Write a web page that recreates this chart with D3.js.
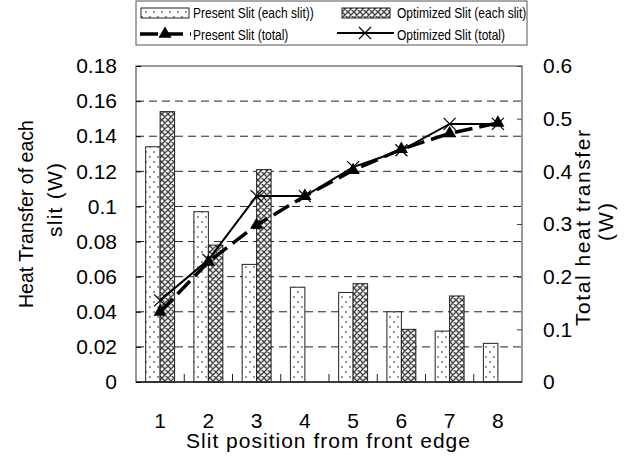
<!DOCTYPE html>
<html lang="en">
<head>
    <script src="https://d3js.org/d3.v7.min.js"></script>
    <style>
        body { margin: 0; background: #fff; }
        text { font-family: "Liberation Sans", Arial, sans-serif; fill: #000; }
    </style>
</head>
<body>
    <svg width="635" height="463"></svg>
    <script>
        const slits = ["1", "2", "3", "4", "5", "6", "7", "8"];
        const presentEach = [0.134, 0.097, 0.067, 0.054, 0.051, 0.040, 0.029, 0.022];
        const optimizedEach = [0.154, 0.078, 0.121, 0, 0.056, 0.030, 0.049, 0];
        const presentTotal = [0.133, 0.228, 0.298, 0.353, 0.402, 0.442, 0.472, 0.492];
        const optimizedTotal = [0.155, 0.232, 0.353, 0.353, 0.408, 0.440, 0.490, 0.490];
        const leftTicks = [0, 0.02, 0.04, 0.06, 0.08, 0.1, 0.12, 0.14, 0.16, 0.18];
        const rightTicks = [0, 0.1, 0.2, 0.3, 0.4, 0.5, 0.6];

        const svg = d3.select("svg");
        const L = 136, R = 522, T = 66, B = 382;

        const x = d3.scaleBand().domain(slits).range([L, R]).paddingInner(0.4).paddingOuter(0.2);
        const xs = d3.scaleBand().domain(["p", "o"]).range([0, x.bandwidth()]);
        const yL = d3.scaleLinear().domain([0, 0.18]).range([B, T]);
        const yR = d3.scaleLinear().domain([0, 0.6]).range([B, T]);

        // patterns
        const defs = svg.append("defs");
        const dots = defs.append("pattern").attr("id", "dots")
            .attr("patternUnits", "userSpaceOnUse").attr("width", 8).attr("height", 10);
        dots.append("rect").attr("width", 8).attr("height", 10).attr("fill", "#fff");
        dots.append("circle").attr("cx", 2).attr("cy", 2).attr("r", 0.9).attr("fill", "#666");
        dots.append("circle").attr("cx", 6).attr("cy", 7).attr("r", 0.9).attr("fill", "#666");

        const hatch = defs.append("pattern").attr("id", "hatch")
            .attr("patternUnits", "userSpaceOnUse").attr("width", 6).attr("height", 6);
        hatch.append("rect").attr("width", 6).attr("height", 6).attr("fill", "#fff");
        hatch.append("path").attr("d", "M0,0L6,6M6,0L0,6M-1,5L1,7M5,-1L7,1M-1,1L1,-1M5,7L7,5")
            .attr("stroke", "#444").attr("stroke-width", 1.4);
        hatch.append("circle").attr("cx", 3).attr("cy", 0).attr("r", 0.6).attr("fill", "#888");

        // grid
        svg.append("g").selectAll("line").data(leftTicks.slice(1, -1)).join("line")
            .attr("x1", L).attr("x2", R).attr("y1", d => yL(d)).attr("y2", d => yL(d))
            .attr("stroke", "#222").attr("stroke-dasharray", "8,5");

        // bars
        const g = svg.append("g");
        slits.forEach((s, i) => {
            g.append("rect").attr("x", x(s) + xs("p")).attr("width", xs.bandwidth())
                .attr("y", yL(presentEach[i])).attr("height", B - yL(presentEach[i]))
                .attr("fill", "url(#dots)").attr("stroke", "#222").attr("stroke-width", 1);
            if (optimizedEach[i] > 0) {
                g.append("rect").attr("x", x(s) + xs("o")).attr("width", xs.bandwidth())
                    .attr("y", yL(optimizedEach[i])).attr("height", B - yL(optimizedEach[i]))
                    .attr("fill", "url(#hatch)").attr("stroke", "#222").attr("stroke-width", 1);
            }
        });

        // frame
        svg.append("rect").attr("x", L).attr("y", T).attr("width", R - L).attr("height", B - T)
            .attr("fill", "none").attr("stroke", "#555").attr("stroke-width", 1.2);
        svg.append("line").attr("x1", L).attr("x2", R).attr("y1", B).attr("y2", B)
            .attr("stroke", "#222").attr("stroke-width", 1.5);

        // left axis
        const axL = svg.append("g").attr("transform", `translate(${L},0)`)
            .call(d3.axisLeft(yL).tickValues(leftTicks).tickSize(-5).tickPadding(19).tickFormat(d3.format("")));
        axL.select(".domain").remove();
        axL.selectAll("text").style("font-size", "21px").style("font-family", null);

        // right axis
        const axR = svg.append("g").attr("transform", `translate(${R},0)`)
            .call(d3.axisRight(yR).tickValues(rightTicks).tickSize(-5).tickPadding(21).tickFormat(d3.format("")));
        axR.select(".domain").remove();
        axR.selectAll("line").attr("stroke", "#444");
        axR.selectAll("text").style("font-size", "21px").style("font-family", null);

        // bottom axis: ticks between groups
        svg.append("g").selectAll("line").data(slits.slice(1)).join("line")
            .attr("x1", d => x(d) - x.step() * 0.2).attr("x2", d => x(d) - x.step() * 0.2)
            .attr("y1", B).attr("y2", B - 8).attr("stroke", "#222");
        svg.append("g").selectAll("text").data(slits).join("text")
            .attr("x", d => x(d) + x.bandwidth() / 2).attr("y", 428)
            .attr("text-anchor", "middle").style("font-size", "21px").text(d => d);

        // lines
        const cx = (d, i) => x(slits[i]) + x.bandwidth() / 2;
        svg.append("path").datum(presentTotal)
            .attr("d", d3.line().x(cx).y(d => yR(d)))
            .attr("fill", "none").attr("stroke", "#000").attr("stroke-width", 3.5)
            .attr("stroke-dasharray", "18,7");
        svg.append("path").datum(optimizedTotal)
            .attr("d", d3.line().x(cx).y(d => yR(d)))
            .attr("fill", "none").attr("stroke", "#000").attr("stroke-width", 2);
        const tri = d3.symbol().type(d3.symbolTriangle).size(75);
        svg.append("g").selectAll("path").data(presentTotal).join("path")
            .attr("transform", (d, i) => `translate(${cx(d, i)},${yR(d)})`)
            .attr("d", tri()).attr("fill", "#000");
        svg.append("g").selectAll("path").data(optimizedTotal).join("path")
            .attr("transform", (d, i) => `translate(${cx(d, i)},${yR(d)})`)
            .attr("d", "M-6,-6L6,6M6,-6L-6,6").attr("stroke", "#000").attr("stroke-width", 1.2);

        // axis titles
        const title = (tx, ty, rot, len, adj, t) => svg.append("text")
            .attr("transform", `translate(${tx},${ty}) rotate(${rot})`)
            .attr("text-anchor", "middle").style("font-size", "21px")
            .attr("textLength", len).attr("lengthAdjust", adj).text(t);
        title(33, 214, -90, 188, "spacingAndGlyphs", "Heat Transfer of each");
        title(62, 200, -90, 74, "spacing", "slit (W)");
        title(590, 228, -90, 196, "spacing", "Total heat transfer");
        title(613, 222, -90, 38, "spacing", "(W)");
        title(328, 448, 0, 284, "spacing", "Slit position from front edge");

        // legend
        const lg = svg.append("g");
        lg.append("rect").attr("x", 136).attr("y", 1).attr("width", 391).attr("height", 44)
            .attr("fill", "#fff").attr("stroke", "#555");
        lg.append("rect").attr("x", 141).attr("y", 8).attr("width", 48).attr("height", 10)
            .attr("fill", "url(#dots)").attr("stroke", "#222");
        lg.append("rect").attr("x", 342).attr("y", 8).attr("width", 48).attr("height", 10)
            .attr("fill", "url(#hatch)").attr("stroke", "#222");
        lg.append("line").attr("x1", 140).attr("x2", 191).attr("y1", 34).attr("y2", 34)
            .attr("stroke", "#000").attr("stroke-width", 3.5).attr("stroke-dasharray", "18,7");
        lg.append("path").attr("transform", "translate(165,34)").attr("d", tri()).attr("fill", "#000");
        lg.append("line").attr("x1", 337).attr("x2", 394).attr("y1", 33).attr("y2", 33)
            .attr("stroke", "#000").attr("stroke-width", 2);
        lg.append("path").attr("transform", "translate(365,33)").attr("d", "M-6,-6L6,6M6,-6L-6,6")
            .attr("stroke", "#000").attr("stroke-width", 1.2);
        const legText = [
            {x: 193, y: 18, t: "Present Slit (each slit))"},
            {x: 397, y: 18, t: "Optimized Slit (each slit)"},
            {x: 193, y: 40, t: "Present Slit (total)"},
            {x: 397, y: 40, t: "Optimized Slit (total)"}
        ];
        lg.selectAll("text").data(legText).join("text")
            .attr("x", d => d.x).attr("y", d => d.y).style("font-size", "15px").text(d => d.t)
            .each(function () {
                d3.select(this).attr("textLength", this.getComputedTextLength() * 0.8)
                    .attr("lengthAdjust", "spacingAndGlyphs");
            });
    </script>
</body>
</html>
